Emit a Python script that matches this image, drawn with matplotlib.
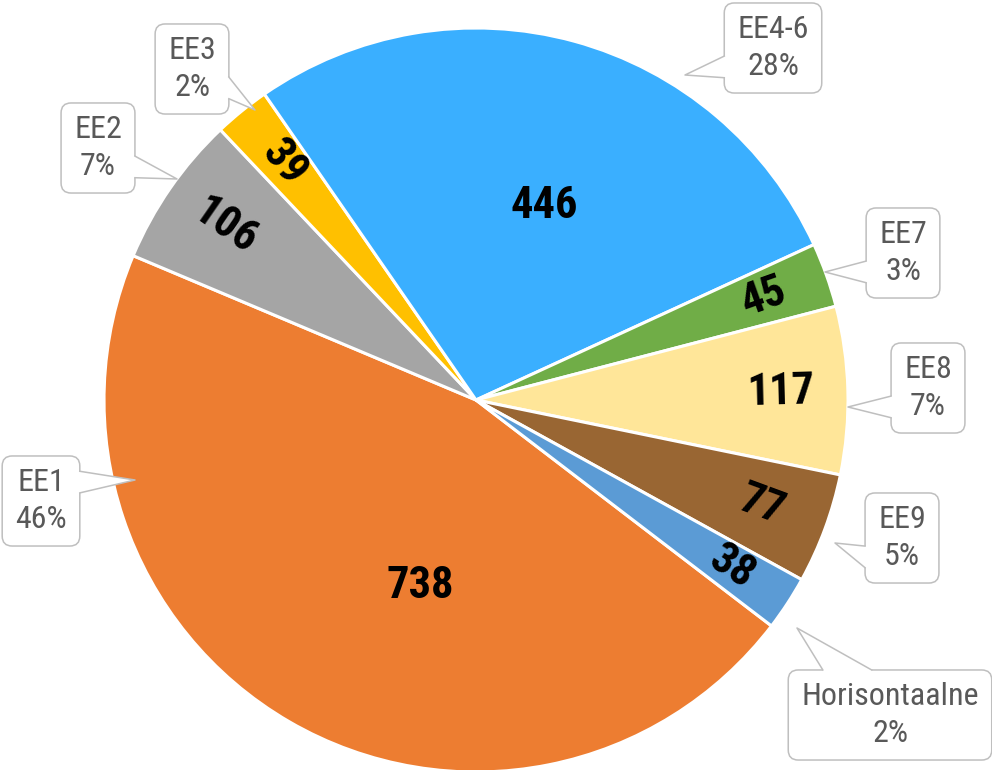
import matplotlib
matplotlib.use("Agg")
import matplotlib.pyplot as plt
from matplotlib import font_manager
from matplotlib.patches import FancyBboxPatch, Polygon
import numpy as np

# data
categories = ["EE1", "EE2", "EE3", "EE4-6", "EE7", "EE8", "EE9", "Horisontaalne"]
values = [738, 106, 39, 446, 45, 117, 77, 38]
colors = ["#ED7D31", "#A5A5A5", "#FFC000", "#3AAFFF", "#70AD47", "#FFE699", "#996633", "#5B9BD5"]

# callout layout (image pixel coords: box centre, pointer tip)
box_centres = [(41, 501), (98, 148), (192, 69), (773, 48), (903, 253), (928, 388), (902, 538), (890, 715)]
tips = [(135, 480), (177, 179), (255, 110), (685, 75), (825, 272), (848, 407), (835, 543), (797, 628)]
# small nudges for the two big value labels (pixels)
nudges = {"EE1": (45, -12), "EE4-6": (15, 0)}

W, H = 992, 770
names = {f.name for f in font_manager.fontManager.ttflist}
font = "DejaVu Sans"
for cand in ["Roboto Condensed", "Liberation Sans Narrow", "Roboto"]:
    if cand in names:
        font = cand
        break
plt.rcParams['font.family'] = [font, 'DejaVu Sans']

fig = plt.figure(figsize=(W / 100, H / 100), dpi=100)
ax = fig.add_axes([0, 0, 1, 1])

cx, cy, R = 476, H - 400, 372
wedges, _ = ax.pie(values, colors=colors, startangle=90 - 127.4, counterclock=False,
                   center=(cx, cy), radius=R,
                   wedgeprops=dict(edgecolor='white', linewidth=2.2))
ax.set_xlim(0, W)
ax.set_ylim(0, H)
ax.set_aspect('auto')
ax.axis('off')

total = sum(values)

# value labels
for name, w, v in zip(categories, wedges, values):
    mid = (w.theta1 + w.theta2) / 2
    frac = v / total
    if frac > 0.2:
        r, rot = 0.54 * R, 0
    else:
        r = 0.82 * R
        rot = (mid + 90) % 180 - 90
    dx, dy = nudges.get(name, (0, 0))
    x = cx + r * np.cos(np.radians(mid)) + dx
    y = cy + r * np.sin(np.radians(mid)) + dy
    ax.text(x, y, str(v), ha='center', va='center', rotation=rot, rotation_mode='anchor',
            fontsize=32, fontweight='bold', color='black')

# callouts
renderer = fig.canvas.get_renderer()
grey = "#BFBFBF"
rad = 10
for name, v, (bx, by), (tx, ty) in zip(categories, values, box_centres, tips):
    by = H - by
    ty = H - ty
    pct = round(v / total * 100)
    t = ax.text(bx, by, f"{name}\n{pct}%", ha='center', va='center', fontsize=23,
                color='#595959', linespacing=1.35, zorder=6)
    bb = t.get_window_extent(renderer)
    bw = bb.width + 26
    bh = bb.height + 24
    x0, x1 = bx - bw / 2, bx + bw / 2
    y0, y1 = by - bh / 2, by + bh / 2
    box = FancyBboxPatch((x0 + rad, y0 + rad), bw - 2 * rad, bh - 2 * rad,
                         boxstyle=f"round,pad={rad}", facecolor='white', edgecolor=grey,
                         linewidth=1.1, zorder=4)
    ax.add_patch(box)
    if tx < x0 or tx > x1:
        sx = x0 if tx < x0 else x1
        inward = 3 if tx < x0 else -3
        hw = 0.12 * bh
        c = y1 - 0.29 * bh if ty > by else y0 + 0.29 * bh
        b1, b2 = (sx, c - hw), (sx, c + hw)
        b1i, b2i = (sx + inward, c - hw), (sx + inward, c + hw)
    else:
        sy = y1 if ty > y1 else y0
        inward = -3 if ty > y1 else 3
        hw = 0.12 * bw
        c = x0 + 0.29 * bw if tx < bx else x1 - 0.29 * bw
        b1, b2 = (c - hw, sy), (c + hw, sy)
        b1i, b2i = (c - hw, sy + inward), (c + hw, sy + inward)
    ax.add_patch(Polygon([b1i, b1, (tx, ty), b2, b2i], closed=True, facecolor='white',
                         edgecolor='none', zorder=5))
    ax.plot([b1[0], tx, b2[0]], [b1[1], ty, b2[1]], color=grey, linewidth=1.1, zorder=5)

fig.savefig("out.png", dpi=100)
